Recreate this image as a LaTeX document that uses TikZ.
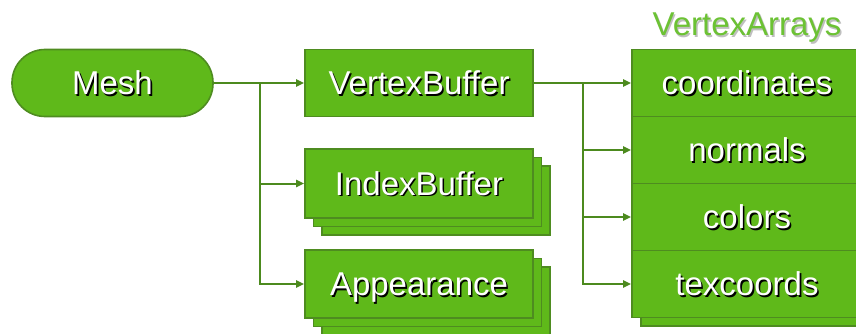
\documentclass[tikz,border=0pt]{standalone}
\usepackage{fontspec}
\setmainfont{Liberation Sans}
\usetikzlibrary{arrows.meta}
\definecolor{boxfill}{RGB}{95,185,26}
\definecolor{boxline}{RGB}{78,140,32}
\definecolor{connc}{RGB}{76,138,30}
\definecolor{labelgreen}{RGB}{108,194,52}
\newcommand\shtxt[1]{\makebox[0pt][l]{\hspace{1.6pt}\raisebox{-1.6pt}{\color{black}#1}}#1}
\newcommand\lbtxt[1]{\makebox[0pt][l]{\hspace{1.4pt}\raisebox{-1.4pt}{\color{black!25}#1}}#1}
\tikzset{
  box/.style={draw=boxline, line width=1.6pt, fill=boxfill, minimum width=228pt,
    minimum height=68pt, inner sep=0pt, text=white,
    font=\fontsize{33}{35}\selectfont, text height=23.5pt, text depth=0pt},
  cell/.style={box, minimum width=230pt, minimum height=67pt},
  connline/.style={draw=connc, line width=2pt},
  arr/.style={connline, -{Triangle[length=8pt,width=7pt]}}
}
\begin{document}
\begin{tikzpicture}[x=1pt,y=-1pt]
\useasboundingbox (0,0) rectangle (856,334);
\clip (0,0) rectangle (856,334);
% Mesh
\node[box, minimum width=201pt, minimum height=67pt, rounded corners=33pt] (mesh) at (112.5,83) {\shtxt{Mesh}};
% VertexBuffer
\node[box, minimum height=67pt] (vb) at (419,83) {\shtxt{VertexBuffer}};
% IndexBuffer stack
\node[box, minimum height=69pt] (ib3) at (436,200.5) {};
\node[box, minimum height=69pt] (ib2) at (427.5,192) {};
\node[box, minimum height=69pt] (ib) at (419,183.5) {\shtxt{IndexBuffer}};
% Appearance stack
\node[box] (ap3) at (436,301) {};
\node[box] (ap2) at (427.5,292.5) {};
\node[box] (ap) at (419,284) {\shtxt{Appearance}};
% VertexArrays
\node[cell, minimum height=269pt] (vaback) at (756,191.5) {};
\node[cell] (co) at (747,83) {\shtxt{coordinates}};
\node[cell] (no) at (747,150) {\shtxt{normals}};
\node[cell] (cl) at (747,217) {\shtxt{colors}};
\node[cell] (tc) at (747,284) {\shtxt{texcoords}};
\node[anchor=base, inner sep=0pt, text=labelgreen, font=\fontsize{33}{35}\selectfont] (valabel) at (747,36) {\lbtxt{VertexArrays}};
% connectors
\coordinate (j1) at (260,83);
\coordinate (j2) at (583,83);
\draw[arr] (mesh.east) -- (vb.west);
\draw[arr] (j1) |- (ib.west);
\draw[arr] (j1) |- (ap.west);
\draw[arr] (vb.east) -- (co.west);
\draw[arr] (j2) |- (no.west);
\draw[arr] (j2) |- (cl.west);
\draw[arr] (j2) |- (tc.west);
\end{tikzpicture}
\end{document}
